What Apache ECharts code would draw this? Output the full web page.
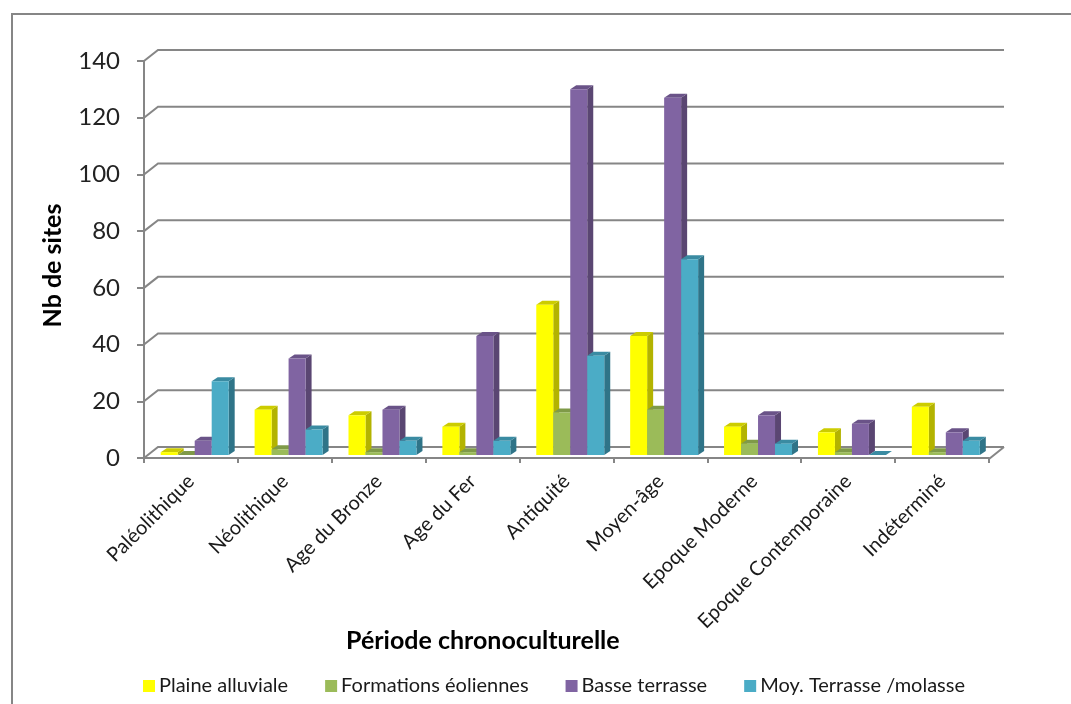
<!DOCTYPE html>
<html><head><meta charset="utf-8">
<style>html,body{margin:0;padding:0;background:#fff}#c{width:1071px;height:704px}</style>
<script src="https://cdn.jsdelivr.net/npm/echarts@6/dist/echarts.min.js"></script>
</head><body><div id="c"></div>
<script>
const categories = ['Paléolithique','Néolithique','Age du Bronze','Age du Fer','Antiquité','Moyen-âge','Epoque Moderne','Epoque Contemporaine','Indéterminé'];
const plaine = [1,16,14,10,53,42,10,8,17];
const eoliennes = [0,2,1,1,15,16,4,1,1];
const basse = [5,34,16,42,129,126,14,11,8];
const moyenne = [26,9,5,5,35,69,4,0,5];
const yTicks = [0,20,40,60,80,100,120,140];
const seriesNames = ['Plaine alluviale','Formations éoliennes','Basse terrasse','Moy. Terrasse /molasse'];
const seriesValues = [plaine,eoliennes,basse,moyenne];
const faces = [
  {front:'#FFFF00',side:'#B3B300',top:'#CCCC00'},
  {front:'#9BBB59',side:'#6F8A3E',top:'#7F9A48'},
  {front:'#8064A2',side:'#5A4672',top:'#6A5388'},
  {front:'#4BACC6',side:'#2F7488',top:'#3A8BA2'}
];
const DEPTH_X=6, DEPTH_Y=4, LIFT=3, WALL_X=14, WALL_Y=11, FONT='Lato,"Open Sans",sans-serif';
const GRID='#868686';

function bar3d(i){
  return function(params,api){
    const band=api.size([1,0])[0];
    const w=band*0.181;
    const p=api.coord([api.value(0),api.value(1)]);
    const base=api.coord([api.value(0),0]);
    const x=p[0]-band*0.322+i*w;
    const yT=p[1]-LIFT, yB=base[1]-LIFT;
    const f=faces[i];
    const poly=(pts,c)=>({type:'polygon',shape:{points:pts},style:{fill:c}});
    return {type:'group',children:[
      poly([[x+w,yT],[x+w+DEPTH_X,yT-DEPTH_Y],[x+w+DEPTH_X,yB-DEPTH_Y],[x+w,yB]],f.side),
      poly([[x,yT],[x+DEPTH_X,yT-DEPTH_Y],[x+w+DEPTH_X,yT-DEPTH_Y],[x+w,yT]],f.top),
      {type:'rect',shape:{x:x,y:yT,width:w,height:yB-yT},style:{fill:f.front}}
    ]};
  };
}
function wall(params,api){
  const cs=params.coordSys;
  const y=api.coord([0,api.value(1)])[1];
  const style={stroke:GRID,lineWidth:2,fill:'none'};
  const kids=[{type:'polyline',shape:{points:[[cs.x,y],[cs.x+WALL_X,y-WALL_Y],[cs.x+cs.width+WALL_X+1,y-WALL_Y]]},style}];
  if(api.value(1)===0) kids.push({type:'line',shape:{x1:cs.x+cs.width,y1:y+1,x2:cs.x+cs.width+WALL_X+1,y2:y-WALL_Y},style});
  return {type:'group',children:kids};
}
const series=[{
  type:'custom',name:'walls',renderItem:wall,silent:true,z:1,
  data:yTicks.map(v=>[0,v]),encode:{x:0,y:1}
}].concat(seriesNames.map((n,i)=>({
  type:'custom',name:n,renderItem:bar3d(i),z:2+i,
  itemStyle:{color:faces[i].front},
  data:seriesValues[i].map((v,k)=>[k,v]),encode:{x:0,y:1}
})));
const chart=echarts.init(document.getElementById('c'),null,{renderer:'canvas'});
chart.setOption({
  animation:false,backgroundColor:'#fff',
  grid:{left:144,right:82,top:61,bottom:246},
  title:{text:'Période chronoculturelle',left:346,top:628,padding:0,
    textStyle:{fontFamily:FONT,fontSize:25,fontWeight:'bold',color:'#000'}},
  legend:{data:seriesNames,left:143,top:676,padding:0,itemWidth:12,itemHeight:12,itemGap:37,icon:'rect',
    textStyle:{fontFamily:FONT,fontSize:20,color:'#1a1a1a',padding:[0,0,0,-1]}},
  xAxis:{type:'category',data:categories,offset:1,
    axisLine:{lineStyle:{color:GRID,width:2}},
    axisTick:{show:true,alignWithLabel:false,length:5,lineStyle:{color:GRID,width:2}},
    axisLabel:{rotate:45,interval:0,margin:19,fontFamily:FONT,fontSize:20,color:'#1a1a1a'},
    splitLine:{show:false}},
  yAxis:{type:'value',min:0,max:140,interval:20,
    name:'Nb de sites',nameLocation:'middle',nameGap:79,
    nameTextStyle:{fontFamily:FONT,fontSize:25,fontWeight:'bold',color:'#000',padding:[0,12,0,0]},
    axisLine:{show:true,lineStyle:{color:GRID,width:2}},
    axisTick:{show:true,length:7,lineStyle:{color:GRID,width:2}},
    axisLabel:{margin:24,fontFamily:FONT,fontSize:24,color:'#222',padding:[4,0,0,0]},
    splitLine:{show:false}},
  graphic:[{type:'polyline',silent:true,z:0,
    shape:{points:[[12,704],[12,14],[1071,14]]},
    style:{stroke:GRID,lineWidth:2,fill:'none'}}],
  series
});
</script></body></html>
